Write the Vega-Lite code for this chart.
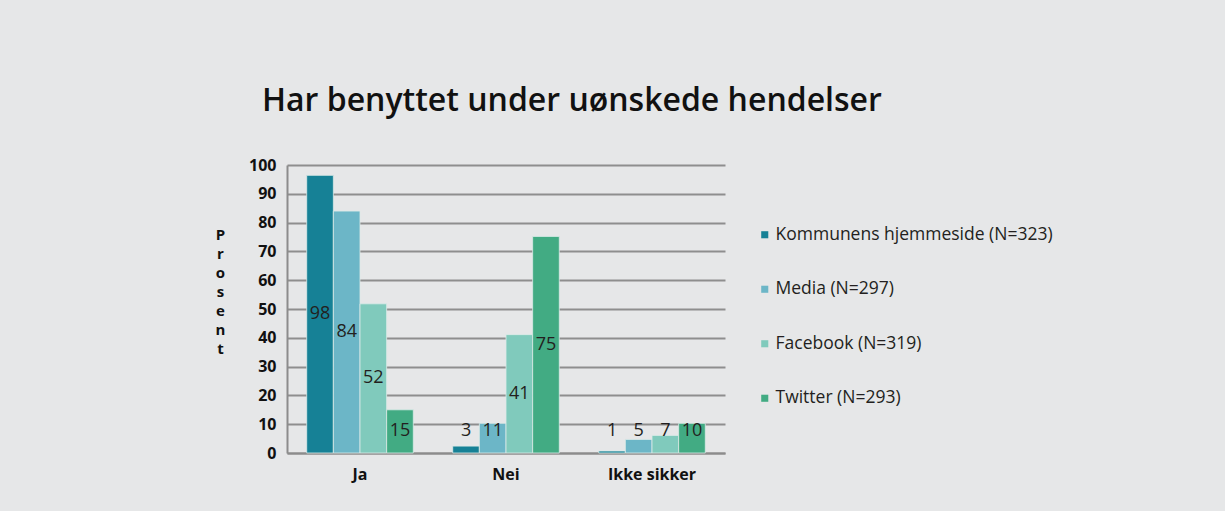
{
  "$schema": "https://vega.github.io/schema/vega-lite/v6.json",
  "autosize": {"type": "none"},
  "width": 438,
  "height": 288,
  "padding": {"left": 287, "top": 165, "right": 500, "bottom": 58},
  "background": "#e6e7e8",
  "title": {
    "text": "Har benyttet under uønskede hendelser",
    "anchor": "start",
    "frame": "group",
    "dx": -25,
    "offset": 39,
    "fontSize": 32,
    "font": "Open Sans",
    "fontWeight": 600,
    "color": "#111111"
  },
  "data": {
    "values": [
      {"svar": "Ja", "kilde": "Kommunens hjemmeside (N=323)", "prosent": 96.4, "etikett": "98"},
      {"svar": "Ja", "kilde": "Media (N=297)", "prosent": 84, "etikett": "84"},
      {"svar": "Ja", "kilde": "Facebook (N=319)", "prosent": 51.8, "etikett": "52"},
      {"svar": "Ja", "kilde": "Twitter (N=293)", "prosent": 15, "etikett": "15"},
      {"svar": "Nei", "kilde": "Kommunens hjemmeside (N=323)", "prosent": 2.4, "etikett": "3"},
      {"svar": "Nei", "kilde": "Media (N=297)", "prosent": 10.3, "etikett": "11"},
      {"svar": "Nei", "kilde": "Facebook (N=319)", "prosent": 41.1, "etikett": "41"},
      {"svar": "Nei", "kilde": "Twitter (N=293)", "prosent": 75.2, "etikett": "75"},
      {"svar": "Ikke sikker", "kilde": "Kommunens hjemmeside (N=323)", "prosent": 0.7, "etikett": "1"},
      {"svar": "Ikke sikker", "kilde": "Media (N=297)", "prosent": 4.7, "etikett": "5"},
      {"svar": "Ikke sikker", "kilde": "Facebook (N=319)", "prosent": 6.1, "etikett": "7"},
      {"svar": "Ikke sikker", "kilde": "Twitter (N=293)", "prosent": 10.3, "etikett": "10"}
    ]
  },
  "encoding": {
    "x": {
      "field": "svar",
      "type": "nominal",
      "sort": ["Ja", "Nei", "Ikke sikker"],
      "scale": {"paddingInner": 0.27, "paddingOuter": 0.135},
      "axis": {
        "title": null,
        "labelAngle": 0,
        "labelFont": "Open Sans",
        "labelFontWeight": "bold",
        "labelFontSize": 16,
        "labelColor": "#111111",
        "labelPadding": 13,
        "ticks": false,
        "domainColor": "#8c8c8c",
        "domainWidth": 2
      }
    },
    "xOffset": {
      "field": "kilde",
      "type": "nominal",
      "sort": ["Kommunens hjemmeside (N=323)", "Media (N=297)", "Facebook (N=319)", "Twitter (N=293)"],
      "scale": {"paddingInner": 0, "paddingOuter": 0}
    }
  },
  "layer": [
    {
      "mark": {"type": "bar", "stroke": "#dcebe8", "strokeWidth": 0.8},
      "encoding": {
        "y": {
          "field": "prosent",
          "type": "quantitative",
          "scale": {"domain": [0, 100]},
          "axis": {
            "values": [0, 10, 20, 30, 40, 50, 60, 70, 80, 90, 100],
            "labelOverlap": false,
            "title": ["P", "r", "o", "s", "e", "n", "t"],
            "titleAngle": 0,
            "titleAlign": "center",
            "titleBaseline": "top",
            "titleX": -67,
            "titleY": 62,
            "titleFont": "Open Sans",
            "titleFontSize": 15,
            "titleFontWeight": "bold",
            "titleLineHeight": 19,
            "titleColor": "#111111",
            "labelFont": "Open Sans",
            "labelFontWeight": "bold",
            "labelFontSize": 16,
            "labelColor": "#111111",
            "labelPadding": 11,
            "ticks": false,
            "domain": true,
            "domainColor": "#8c8c8c",
            "domainWidth": 2,
            "grid": true,
            "gridColor": "#8e8e8e",
            "gridWidth": 2
          }
        },
        "color": {
          "field": "kilde",
          "type": "nominal",
          "sort": ["Kommunens hjemmeside (N=323)", "Media (N=297)", "Facebook (N=319)", "Twitter (N=293)"],
          "scale": {
            "domain": ["Kommunens hjemmeside (N=323)", "Media (N=297)", "Facebook (N=319)", "Twitter (N=293)"],
            "range": ["#168196", "#6cb6c7", "#80cabc", "#42ab83"]
          },
          "legend": {
            "title": null,
            "orient": "none",
            "legendX": 469,
            "legendY": 61,
            "symbolType": "square",
            "symbolSize": 50,
            "symbolStrokeWidth": 0,
            "symbolOpacity": 1,
            "labelFont": "Open Sans",
            "labelFontSize": 17.5,
            "labelColor": "#231f20",
            "labelOffset": 2,
            "rowPadding": 35.5,
            "labelLimit": 400
          }
        }
      }
    },
    {
      "transform": [
        {"calculate": "max(datum.prosent / 2, 7.5)", "as": "etikettpos"}
      ],
      "mark": {"type": "text", "font": "Open Sans", "fontSize": 18, "color": "#231f20", "baseline": "middle", "align": "center"},
      "encoding": {
        "y": {
          "field": "etikettpos",
          "type": "quantitative",
          "axis": {
            "values": [0, 10, 20, 30, 40, 50, 60, 70, 80, 90, 100],
            "labelOverlap": false,
            "title": ["P", "r", "o", "s", "e", "n", "t"],
            "titleAngle": 0,
            "titleAlign": "center",
            "titleBaseline": "top",
            "titleX": -67,
            "titleY": 62,
            "titleFont": "Open Sans",
            "titleFontSize": 15,
            "titleFontWeight": "bold",
            "titleLineHeight": 19,
            "titleColor": "#111111",
            "labelFont": "Open Sans",
            "labelFontWeight": "bold",
            "labelFontSize": 16,
            "labelColor": "#111111",
            "labelPadding": 11,
            "ticks": false,
            "domain": true,
            "domainColor": "#8c8c8c",
            "domainWidth": 2,
            "grid": true,
            "gridColor": "#8e8e8e",
            "gridWidth": 2
          }
        },
        "text": {"field": "etikett"}
      }
    }
  ],
  "config": {
    "view": {"stroke": null}
  }
}
